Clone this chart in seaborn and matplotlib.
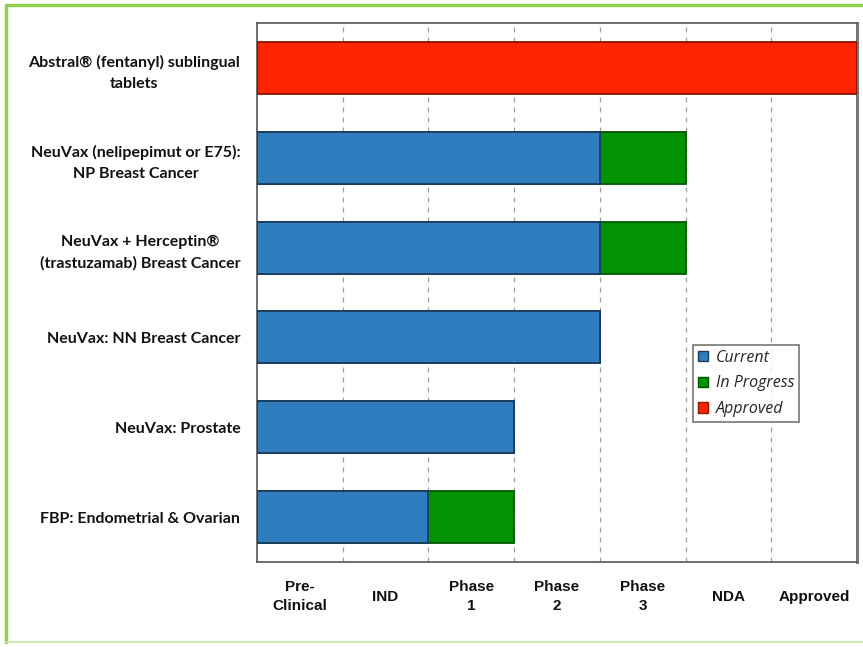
import matplotlib
matplotlib.use("Agg")
import matplotlib.pyplot as plt
from matplotlib.lines import Line2D
from matplotlib.patches import Patch
import seaborn as sns
import pandas as pd

# ---- data ----
drugs = [
    "Abstral\u00ae (fentanyl) sublingual\ntablets",
    "NeuVax (nelipepimut or E75):\nNP Breast Cancer",
    "NeuVax + Herceptin\u00ae\n(trastuzamab) Breast Cancer",
    "NeuVax: NN Breast Cancer",
    "NeuVax: Prostate",
    "FBP: Endometrial & Ovarian",
]
current = [0, 4, 4, 4, 3, 2]
in_progress = [0, 1, 1, 0, 0, 1]
approved = [7, 0, 0, 0, 0, 0]
stages = ["Pre-\nClinical", "IND", "Phase\n1", "Phase\n2", "Phase\n3", "NDA", "Approved"]

C_CUR, C_PROG, C_APP = "#2f7cbf", "#019301", "#fe2400"
E_CUR, E_PROG, E_APP = "#1a3c5c", "#005400", "#8a1500"

df = pd.DataFrame({"drug": drugs, "current": current,
                   "progress": in_progress, "approved": approved})
df["total"] = df["current"] + df["progress"] + df["approved"]
outer_col = [C_APP if a > 0 else (C_PROG if p > 0 else C_CUR)
             for a, p in zip(approved, in_progress)]
outer_edge = [E_APP if a > 0 else (E_PROG if p > 0 else E_CUR)
              for a, p in zip(approved, in_progress)]

sns.set_theme(style="white")
fig = plt.figure(figsize=(8.63, 6.47), dpi=100)
ax = fig.add_axes([257 / 863, 1 - 562 / 647, 600 / 863, (562 - 23) / 647])

# outer (total) bars
sns.barplot(data=df, x="total", y="drug", hue="drug", palette=outer_col,
            legend=False, width=0.58, orient="h", ax=ax, zorder=3,
            saturation=1, edgecolor="none")
for patch, ec in zip(ax.patches, outer_edge):
    patch.set_edgecolor(ec)
    patch.set_linewidth(1.3)

# current bars on top
sns.barplot(data=df, x="current", y="drug", color=C_CUR, width=0.58,
            orient="h", ax=ax, zorder=4, saturation=1,
            edgecolor=E_CUR, linewidth=1.3)

ax.set_xlim(0, 7)
ax.set_ylim(5.5, -0.5)
ax.set_xlabel("")
ax.set_ylabel("")

# grid at stage boundaries
for x in range(1, 7):
    ax.axvline(x, color="#a0a0a0", lw=0.9, ls=(0, (4, 4)), zorder=1)

ax.set_xticks([i + 0.5 for i in range(7)])
ax.set_xticklabels(stages, fontfamily="Liberation Sans", fontweight="bold",
                   fontsize=11, color="#111111", va="center",
                   multialignment="center", linespacing=1.5)
ax.tick_params(axis="x", length=0, pad=25)

ax.set_yticks(range(len(drugs)))
ax.set_yticklabels(drugs, fontfamily="Lato", fontweight="bold",
                   fontsize=11.5, color="#111111",
                   multialignment="center", linespacing=1.65)
ax.tick_params(axis="y", length=0, pad=12)

for s in ["top", "left", "bottom"]:
    ax.spines[s].set_color("#555555")
    ax.spines[s].set_linewidth(1.2)
ax.spines["right"].set_color("#777777")
ax.spines["right"].set_linewidth(2.2)

handles = [Patch(facecolor=C_CUR, edgecolor=E_CUR, label="Current"),
           Patch(facecolor=C_PROG, edgecolor=E_PROG, label="In Progress"),
           Patch(facecolor=C_APP, edgecolor=E_APP, label="Approved")]
leg = ax.legend(handles=handles, loc="upper left",
                bbox_to_anchor=(0.727, 0.403), borderaxespad=0,
                frameon=True, fancybox=False, handlelength=0.65,
                handleheight=0.65, handletextpad=0.45, labelspacing=0.62,
                borderpad=0.3,
                prop={"family": "Open Sans", "style": "italic", "size": 11.5})
leg.get_frame().set_edgecolor("#555555")
leg.get_frame().set_linewidth(1.2)
leg.set_zorder(10)

# green outer frame
g = "#8fd14f"
fig.add_artist(Line2D([6 / 863, 1], [1 - 5 / 647, 1 - 5 / 647],
                      color=g, lw=2.5, transform=fig.transFigure))
fig.add_artist(Line2D([6 / 863, 6 / 863], [1 - 5 / 647, 1 - 642 / 647],
                      color=g, lw=2.5, transform=fig.transFigure))
fig.add_artist(Line2D([6 / 863, 1], [1 - 642 / 647, 1 - 642 / 647],
                      color="#c5e8a5", lw=1.2, transform=fig.transFigure))

fig.savefig("out.png", dpi=100)
